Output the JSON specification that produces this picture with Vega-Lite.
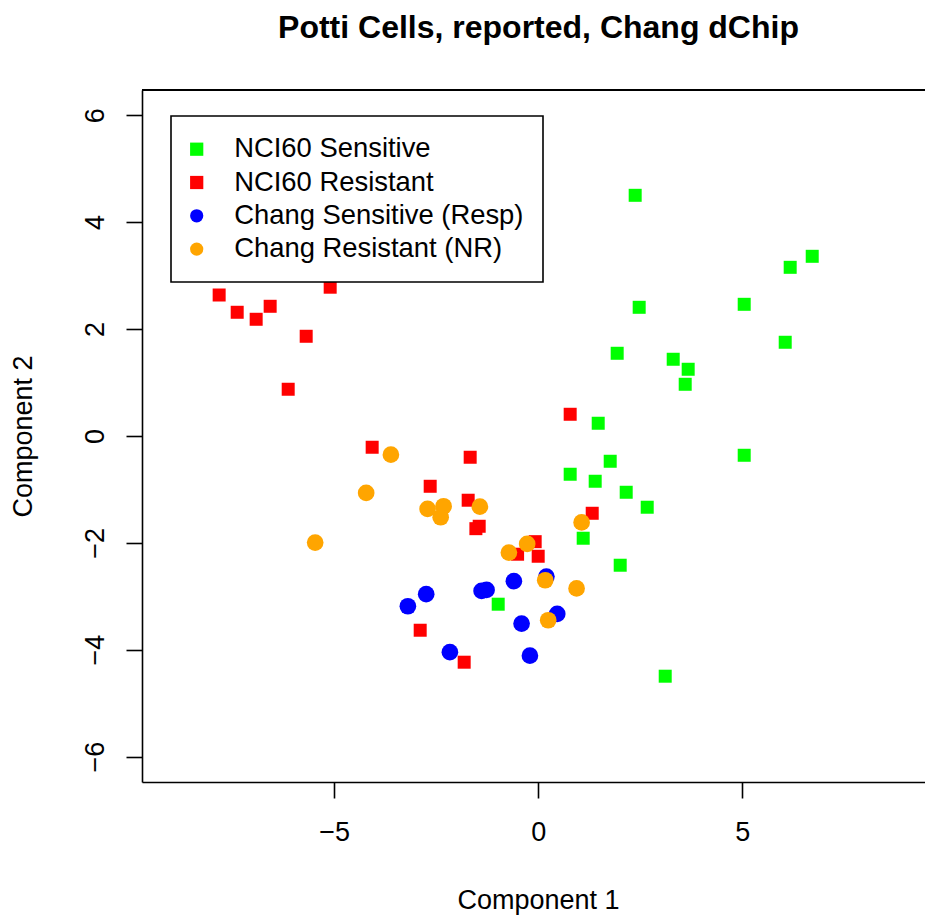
{
  "$schema": "https://vega.github.io/schema/vega-lite/v6.json",
  "autosize": {"type": "none"},
  "padding": {"left": 142, "top": 90, "right": 0, "bottom": 137},
  "width": 783,
  "height": 692,
  "background": "white",
  "config": {
    "view": {"stroke": null},
    "font": "Liberation Sans",
    "axis": {
      "grid": false,
      "domainColor": "black",
      "domainWidth": 1.6,
      "tickColor": "black",
      "tickWidth": 1.6,
      "tickSize": 16,
      "labelFont": "Liberation Sans",
      "labelFontSize": 27,
      "labelColor": "black",
      "titleFont": "Liberation Sans",
      "titleFontSize": 27,
      "titleFontWeight": "normal",
      "titleColor": "black"
    }
  },
  "title": {
    "text": "Potti Cells, reported, Chang dChip",
    "font": "Liberation Sans",
    "fontSize": 32,
    "fontWeight": "bold",
    "color": "black",
    "anchor": "middle",
    "baseline": "alphabetic",
    "offset": 19,
    "dx": 5
  },
  "datasets": {
    "pca": [
      {"x": 2.377, "y": 4.500, "group": "NCI60 Sensitive"},
      {"x": 6.716, "y": 3.359, "group": "NCI60 Sensitive"},
      {"x": 6.176, "y": 3.153, "group": "NCI60 Sensitive"},
      {"x": 2.475, "y": 2.405, "group": "NCI60 Sensitive"},
      {"x": 5.049, "y": 2.461, "group": "NCI60 Sensitive"},
      {"x": 1.936, "y": 1.545, "group": "NCI60 Sensitive"},
      {"x": 6.054, "y": 1.751, "group": "NCI60 Sensitive"},
      {"x": 3.309, "y": 1.433, "group": "NCI60 Sensitive"},
      {"x": 3.676, "y": 1.246, "group": "NCI60 Sensitive"},
      {"x": 3.603, "y": 0.965, "group": "NCI60 Sensitive"},
      {"x": 1.471, "y": 0.236, "group": "NCI60 Sensitive"},
      {"x": 5.049, "y": -0.363, "group": "NCI60 Sensitive"},
      {"x": 1.765, "y": -0.475, "group": "NCI60 Sensitive"},
      {"x": 0.784, "y": -0.718, "group": "NCI60 Sensitive"},
      {"x": 1.397, "y": -0.849, "group": "NCI60 Sensitive"},
      {"x": 2.157, "y": -1.055, "group": "NCI60 Sensitive"},
      {"x": 2.672, "y": -1.335, "group": "NCI60 Sensitive"},
      {"x": 1.103, "y": -1.915, "group": "NCI60 Sensitive"},
      {"x": 2.010, "y": -2.420, "group": "NCI60 Sensitive"},
      {"x": -0.980, "y": -3.149, "group": "NCI60 Sensitive"},
      {"x": 3.113, "y": -4.496, "group": "NCI60 Sensitive"},
      {"x": -7.819, "y": 2.635, "group": "NCI60 Resistant"},
      {"x": -7.377, "y": 2.312, "group": "NCI60 Resistant"},
      {"x": -6.912, "y": 2.181, "group": "NCI60 Resistant"},
      {"x": -6.569, "y": 2.424, "group": "NCI60 Resistant"},
      {"x": -5.686, "y": 1.863, "group": "NCI60 Resistant"},
      {"x": -5.098, "y": 2.781, "group": "NCI60 Resistant"},
      {"x": -6.127, "y": 0.872, "group": "NCI60 Resistant"},
      {"x": -4.069, "y": -0.213, "group": "NCI60 Resistant"},
      {"x": -1.667, "y": -0.400, "group": "NCI60 Resistant"},
      {"x": -2.647, "y": -0.943, "group": "NCI60 Resistant"},
      {"x": -1.716, "y": -1.204, "group": "NCI60 Resistant"},
      {"x": -1.527, "y": -1.736, "group": "NCI60 Resistant"},
      {"x": -1.446, "y": -1.691, "group": "NCI60 Resistant"},
      {"x": 0.784, "y": 0.404, "group": "NCI60 Resistant"},
      {"x": 1.324, "y": -1.448, "group": "NCI60 Resistant"},
      {"x": -0.074, "y": -1.979, "group": "NCI60 Resistant"},
      {"x": -0.505, "y": -2.214, "group": "NCI60 Resistant"},
      {"x": 0.000, "y": -2.252, "group": "NCI60 Resistant"},
      {"x": -2.892, "y": -3.636, "group": "NCI60 Resistant"},
      {"x": -1.814, "y": -4.234, "group": "NCI60 Resistant"},
      {"x": -0.596, "y": -2.719, "group": "Chang Sensitive (Resp)"},
      {"x": 0.201, "y": -2.633, "group": "Chang Sensitive (Resp)"},
      {"x": -1.387, "y": -2.901, "group": "Chang Sensitive (Resp)"},
      {"x": -1.265, "y": -2.882, "group": "Chang Sensitive (Resp)"},
      {"x": -2.745, "y": -2.962, "group": "Chang Sensitive (Resp)"},
      {"x": -3.194, "y": -3.187, "group": "Chang Sensitive (Resp)"},
      {"x": 0.466, "y": -3.331, "group": "Chang Sensitive (Resp)"},
      {"x": -0.407, "y": -3.512, "group": "Chang Sensitive (Resp)"},
      {"x": -2.164, "y": -4.047, "group": "Chang Sensitive (Resp)"},
      {"x": -0.203, "y": -4.111, "group": "Chang Sensitive (Resp)"},
      {"x": -3.610, "y": -0.352, "group": "Chang Resistant (NR)"},
      {"x": -4.216, "y": -1.068, "group": "Chang Resistant (NR)"},
      {"x": -2.711, "y": -1.367, "group": "Chang Resistant (NR)"},
      {"x": -2.319, "y": -1.317, "group": "Chang Resistant (NR)"},
      {"x": -2.390, "y": -1.522, "group": "Chang Resistant (NR)"},
      {"x": -1.429, "y": -1.324, "group": "Chang Resistant (NR)"},
      {"x": -5.466, "y": -1.997, "group": "Chang Resistant (NR)"},
      {"x": -0.270, "y": -2.022, "group": "Chang Resistant (NR)"},
      {"x": -0.718, "y": -2.184, "group": "Chang Resistant (NR)"},
      {"x": 0.172, "y": -2.701, "group": "Chang Resistant (NR)"},
      {"x": 0.941, "y": -2.854, "group": "Chang Resistant (NR)"},
      {"x": 0.245, "y": -3.449, "group": "Chang Resistant (NR)"},
      {"x": 1.064, "y": -1.620, "group": "Chang Resistant (NR)"}
    ]
  },
  "data": {"name": "pca"},
  "layer": [
    {
      "mark": {"type": "rule", "color": "black", "strokeWidth": 1.6},
      "encoding": {
        "y": {"datum": 6.47, "type": "quantitative"}
      }
    },
    {
      "transform": [{"filter": {"field": "group", "oneOf": ["NCI60 Sensitive", "NCI60 Resistant"]}}],
      "mark": {"type": "point", "filled": true, "opacity": 1, "strokeWidth": 0, "size": 169},
      "encoding": {
        "x": {
          "field": "x",
          "type": "quantitative",
          "scale": {"domain": [-9.71, 9.48], "nice": false, "zero": false},
          "axis": {
            "title": "Component 1",
            "values": [-5, 0, 5],
            "labelBaseline": "middle",
            "labelPadding": 34,
            "titleX": 396,
            "titleY": 118,
            "titleBaseline": "middle",
            "titleAlign": "center"
          }
        },
        "y": {
          "field": "y",
          "type": "quantitative",
          "scale": {"domain": [-6.475, 6.47], "nice": false, "zero": false},
          "axis": {
            "title": "Component 2",
            "values": [-6, -4, -2, 0, 2, 4, 6],
            "labelAngle": -90,
            "labelAlign": "center",
            "labelBaseline": "middle",
            "labelPadding": 31,
            "titleAngle": -90,
            "titleX": -119,
            "titleBaseline": "middle",
            "titleAlign": "center"
          }
        },
        "color": {
          "field": "group",
          "type": "nominal",
          "scale": {
            "domain": ["NCI60 Sensitive", "NCI60 Resistant", "Chang Sensitive (Resp)", "Chang Resistant (NR)"],
            "range": ["#00ff00", "#ff0000", "#0000ff", "#ffa500"]
          },
          "legend": {
            "title": null,
            "orient": "none",
            "legendX": 29,
            "legendY": 26,
            "padding": 19.5,
            "fillColor": "white",
            "strokeColor": "black",
            "symbolSize": 175,
            "symbolStrokeWidth": 0,
            "symbolOpacity": 1,
            "symbolOffset": -7.5,
            "labelFont": "Liberation Sans",
            "labelFontSize": 27.4,
            "labelColor": "black",
            "labelOffset": 23.8,
            "rowPadding": 4.3,
            "labelLimit": 500,
            "encode": {"legend": {"update": {"strokeWidth": {"value": 1.6}}}}
          }
        },
        "shape": {
          "field": "group",
          "type": "nominal",
          "scale": {
            "domain": ["NCI60 Sensitive", "NCI60 Resistant", "Chang Sensitive (Resp)", "Chang Resistant (NR)"],
            "range": ["square", "square", "circle", "circle"]
          }
        }
      }
    },
    {
      "transform": [{"filter": {"field": "group", "oneOf": ["Chang Sensitive (Resp)", "Chang Resistant (NR)"]}}],
      "mark": {"type": "point", "filled": true, "opacity": 1, "strokeWidth": 0, "size": 279},
      "encoding": {
        "x": {"field": "x", "type": "quantitative"},
        "y": {"field": "y", "type": "quantitative"},
        "color": {"field": "group", "type": "nominal"},
        "shape": {"field": "group", "type": "nominal"}
      }
    }
  ]
}
